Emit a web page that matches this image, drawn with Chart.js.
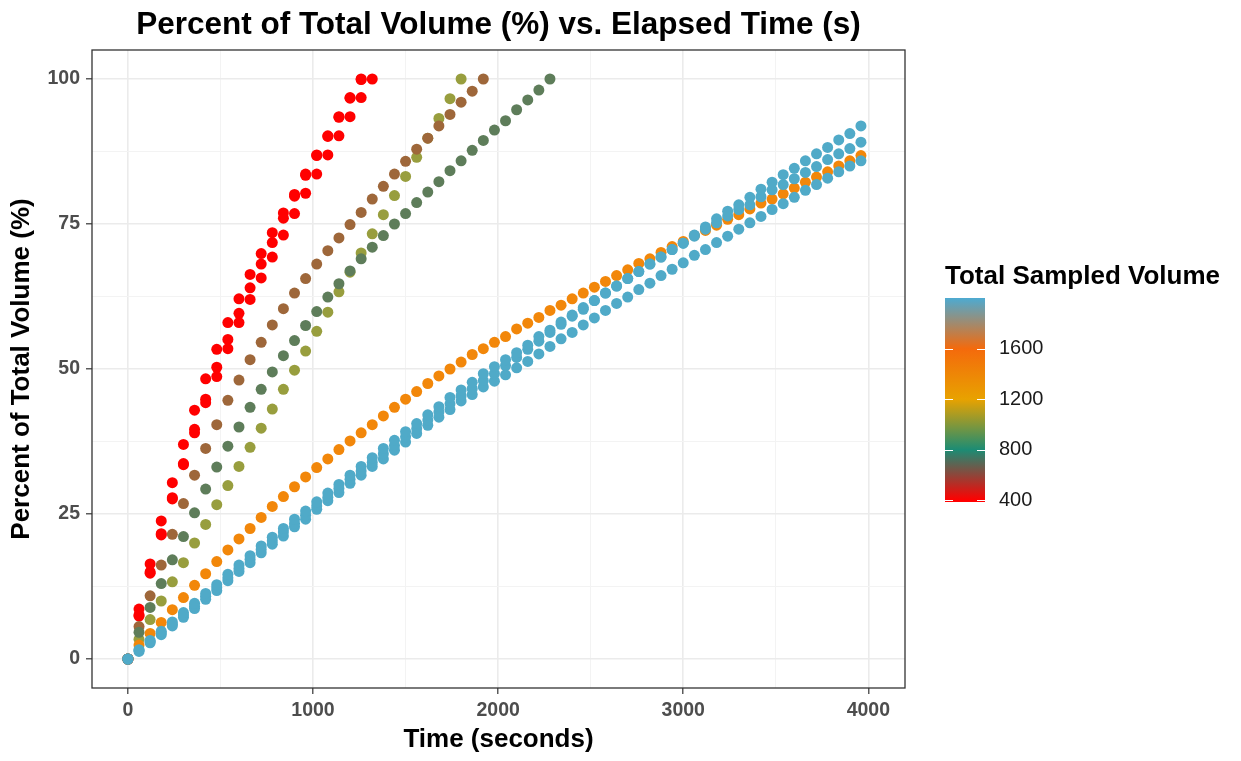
<!DOCTYPE html>
<html>
<head>
<meta charset="utf-8">
<title>Percent of Total Volume vs. Elapsed Time</title>
<script src="https://cdn.jsdelivr.net/npm/chart.js@4.4.1/dist/chart.umd.min.js"></script>
<style>
  html, body { margin: 0; padding: 0; background: #ffffff; }
  #wrap { width: 1241px; height: 761px; }
</style>
</head>
<body>
<div id="wrap"><canvas id="chart" width="1241" height="761"></canvas></div>
<script>
// Elapsed time of each reading (seconds)
const times = [0, 60, 120, 180, 240, 300, 360, 420, 480, 540, 600, 660, 720, 780, 840, 900, 960,
  1020, 1080, 1140, 1200, 1260, 1320, 1380, 1440, 1500, 1560, 1620, 1680, 1740, 1800, 1860, 1920, 1980,
  2040, 2100, 2160, 2220, 2280, 2340, 2400, 2460, 2520, 2580, 2640, 2700, 2760, 2820, 2880, 2940, 3000,
  3060, 3120, 3180, 3240, 3300, 3360, 3420, 3480, 3540, 3600, 3660, 3720, 3780, 3840, 3900, 3960]

// Percent of total volume per sample
const redA = [0, 8.6, 16.4, 23.8, 30.4, 37.0, 42.9, 48.3, 53.4, 58.0, 62.1, 66.3, 69.9, 73.5, 76.9, 80.1,
  83.6, 86.9, 90.2, 93.5, 96.8, 100]
const redB = [0, 7.6, 15.0, 21.6, 27.8, 33.7, 39.6, 44.8, 50.3, 55.1, 59.6, 64.0, 68.1, 71.8, 76.0, 79.8,
  83.4, 86.8, 90.1, 93.4, 96.7, 99.9]
const redC = [0, 7.4, 14.8, 21.4, 27.6, 33.5, 39.0, 44.2, 48.7, 53.5, 58.0, 62.0, 65.7, 69.3, 73.1, 76.8,
  80.3, 83.6, 86.9, 90.2, 93.5, 96.8, 100]
const brown = [0, 5.6, 10.9, 16.2, 21.5, 26.8, 31.7, 36.3, 40.4, 44.6, 48.1, 51.6, 54.6, 57.6, 60.4, 63.1,
  65.6, 68.1, 70.4, 72.6, 74.9, 77.0, 79.3, 81.5, 83.6, 85.8, 87.9, 89.8, 91.9, 93.9, 96.0, 97.9, 100]
const olive = [0, 3.4, 6.8, 10.0, 13.3, 16.6, 20.0, 23.2, 26.6, 29.9, 33.2, 36.5, 39.8, 43.1, 46.5, 49.8,
  53.1, 56.5, 59.8, 63.3, 66.7, 70.0, 73.3, 76.6, 79.9, 83.2, 86.5, 89.8, 93.2, 96.6, 100]
const green = [0, 4.6, 8.9, 13.0, 17.1, 21.1, 25.2, 29.3, 33.1, 36.7, 40.0, 43.4, 46.5, 49.5, 52.3, 54.9,
  57.5, 59.9, 62.4, 64.7, 66.9, 69.0, 71.0, 73.0, 75.0, 76.8, 78.7, 80.5, 82.3, 84.2, 85.9, 87.7, 89.4,
  91.2, 92.8, 94.7, 96.4, 98.1, 100]
const orange = [0, 2.4, 4.4, 6.3, 8.5, 10.6, 12.7, 14.7, 16.8, 18.8, 20.7, 22.5, 24.4, 26.3, 28.0, 29.7,
  31.4, 33.0, 34.5, 36.1, 37.6, 39.0, 40.4, 41.9, 43.4, 44.8, 46.1, 47.5, 48.8, 50.0, 51.2, 52.5, 53.5,
  54.6, 55.6, 56.9, 57.9, 58.9, 60.1, 61.0, 62.1, 63.1, 64.1, 65.1, 66.1, 67.1, 68.2, 69.0, 70.1, 71.1,
  72.0, 73.0, 73.9, 74.8, 75.8, 76.6, 77.6, 78.6, 79.3, 80.2, 81.2, 82.2, 83.1, 84.0, 85.0, 85.9, 86.8]
const blueA = [0, 1.6, 3.2, 4.8, 6.4, 8.0, 9.6, 11.3, 12.8, 14.6, 16.2, 17.8, 19.5, 21.0, 22.5, 24.1,
  25.5, 27.1, 28.6, 30.1, 31.7, 33.2, 34.7, 36.3, 37.7, 39.2, 40.6, 42.1, 43.5, 45.1, 46.4, 47.7, 49.2,
  50.4, 51.6, 52.8, 54.1, 55.6, 56.7, 58.1, 59.3, 60.6, 61.8, 63.1, 64.3, 65.6, 66.8, 68.1, 69.3, 70.6,
  71.7, 73.1, 74.5, 75.9, 77.2, 78.3, 79.6, 81.0, 82.2, 83.5, 84.6, 85.9, 87.1, 88.2, 89.5, 90.6, 91.9]
const blueB = [0, 1.5, 3.0, 4.5, 6.0, 7.6, 9.1, 10.8, 12.3, 14.0, 15.6, 17.2, 18.9, 20.4, 21.9, 23.4,
  24.8, 26.4, 27.9, 29.4, 31.0, 32.4, 33.9, 35.4, 36.8, 38.3, 39.7, 41.2, 42.6, 44.0, 45.4, 46.6, 48.0,
  49.2, 50.6, 52.0, 53.4, 54.8, 56.3, 57.7, 59.1, 60.3, 61.8, 63.1, 64.3, 65.6, 66.8, 68.1, 69.3, 70.6,
  71.7, 72.9, 74.1, 75.2, 76.4, 77.5, 78.3, 79.7, 80.9, 81.8, 82.8, 83.9, 84.9, 86.1, 87.1, 88.0, 89.1]
const blueC = [0, 1.3, 2.8, 4.2, 5.7, 7.2, 8.7, 10.3, 11.8, 13.5, 15.1, 16.6, 18.3, 19.8, 21.2, 22.8,
  24.1, 25.8, 27.3, 28.7, 30.3, 31.7, 33.2, 34.5, 36.0, 37.4, 38.9, 40.3, 41.7, 43.0, 44.5, 45.6, 46.9,
  47.9, 49.0, 50.2, 51.3, 52.6, 53.9, 55.2, 56.3, 57.6, 58.8, 60.1, 61.3, 62.4, 63.7, 64.8, 66.1, 67.2,
  68.3, 69.6, 70.6, 71.8, 72.9, 74.1, 75.2, 76.3, 77.5, 78.5, 79.6, 80.8, 81.8, 82.9, 84.0, 85.0, 85.9]

// Axis breaks
const xTicks = [0, 1000, 2000, 3000, 4000]
const xMinor = [500, 1500, 2500, 3500]
const yTicks = [0, 25, 50, 75, 100]
const yMinor = [12.5, 37.5, 62.5, 87.5]

// Colour bar (Total Sampled Volume)
const legendBreaks = [400, 800, 1200, 1600]
const barRange = [386, 2003]
const barStops = [400, 800, 1200, 1600, 2000]
const barColours = ['#ff0000', '#1c8c74', '#e8a200', '#f46a0c', '#4eaad0']

// drawn bottom to top
const samples = [
  { label: 'Red A', values: redA, colour: '#ff0000' },
  { label: 'Red B', values: redB, colour: '#ff0000' },
  { label: 'Red C', values: redC, colour: '#ff0000' },
  { label: 'Olive', values: olive, colour: '#989e3e' },
  { label: 'Brown', values: brown, colour: '#9e673a' },
  { label: 'Green', values: green, colour: '#5e7d5a' },
  { label: 'Orange', values: orange, colour: '#f2870a' },
  { label: 'Blue C', values: blueC, colour: '#50aac8' },
  { label: 'Blue B', values: blueB, colour: '#50aac8' },
  { label: 'Blue A', values: blueA, colour: '#50aac8' }
]

const FONT = "'Liberation Sans', Arial, Helvetica, sans-serif"
Chart.defaults.font.family = FONT

const datasets = samples.map(s => ({
  label: s.label,
  data: s.values.map((v, i) => ({ x: times[i], y: v })),
  backgroundColor: s.colour,
  borderWidth: 0,
  pointRadius: 5.5,
  pointHoverRadius: 5.5,
  pointBorderWidth: 0,
  showLine: false
})).reverse() // index 0 is painted last in Chart.js

// panel border on top of everything
const panelBorder = {
  id: 'panelBorder',
  afterDraw (chart) {
    const { ctx, chartArea: a } = chart
    ctx.save()
    ctx.strokeStyle = '#333333'
    ctx.lineWidth = 1.3
    ctx.strokeRect(a.left, a.top, a.right - a.left, a.bottom - a.top)
    ctx.restore()
  }
}

// ggplot-like colour bar legend
const colourBar = {
  id: 'colourBar',
  afterDraw (chart) {
    const ctx = chart.ctx
    const x = 945
    const w = 40
    const top = 298
    const bottom = 502
    const lo = barRange[0]
    const hi = barRange[1]
    const yOf = v => bottom - (v - lo) / (hi - lo) * (bottom - top)

    ctx.save()
    ctx.fillStyle = '#000000'
    ctx.font = 'bold 26px ' + FONT
    ctx.textAlign = 'left'
    ctx.textBaseline = 'alphabetic'
    ctx.fillText('Total Sampled Volume', 945, 284)

    const grad = ctx.createLinearGradient(0, bottom, 0, top)
    barStops.forEach((v, i) => grad.addColorStop((v - lo) / (hi - lo), barColours[i]))
    ctx.fillStyle = grad
    ctx.fillRect(x, top, w, bottom - top)

    ctx.strokeStyle = '#ffffff'
    ctx.lineWidth = 1
    ctx.fillStyle = '#1a1a1a'
    ctx.font = '20px ' + FONT
    ctx.textBaseline = 'middle'
    legendBreaks.forEach(v => {
      const y = Math.round(yOf(v)) + 0.5
      ctx.beginPath()
      ctx.moveTo(x, y)
      ctx.lineTo(x + 8, y)
      ctx.moveTo(x + w - 8, y)
      ctx.lineTo(x + w, y)
      ctx.stroke()
      ctx.fillText(String(v), 999, yOf(v))
    })
    ctx.restore()
  }
}

const isMajor = (list, v) => list.includes(v)

new Chart(document.getElementById('chart'), {
  type: 'scatter',
  data: { datasets },
  options: {
    responsive: false,
    animation: false,
    devicePixelRatio: 1,
    layout: { padding: { left: 0, right: 336, top: 0, bottom: 0 } },
    plugins: {
      legend: { display: false },
      tooltip: { enabled: false },
      title: {
        display: true,
        text: 'Percent of Total Volume (%) vs. Elapsed Time (s)',
        fullSize: false,
        color: '#000000',
        font: { size: 31.5, weight: 'bold', lineHeight: 1.2 },
        padding: { top: 6, bottom: 6.2 }
      }
    },
    scales: {
      x: {
        type: 'linear',
        min: -194,
        max: 4198,
        afterBuildTicks: scale => {
          scale.ticks = xTicks.concat(xMinor).sort((a, b) => a - b).map(v => ({ value: v }))
        },
        afterFit: scale => { scale.height = 73 },
        border: { display: false },
        grid: {
          color: c => isMajor(xTicks, c.tick.value) ? '#ebebeb' : '#f3f3f3',
          lineWidth: c => isMajor(xTicks, c.tick.value) ? 1.6 : 1,
          tickColor: c => isMajor(xTicks, c.tick.value) ? '#333333' : 'rgba(0,0,0,0)',
          tickWidth: 1.2,
          tickLength: 6
        },
        ticks: {
          autoSkip: false,
          maxRotation: 0,
          padding: 5,
          color: '#4d4d4d',
          font: { size: 19.5, weight: 'bold' },
          callback: v => isMajor(xTicks, v) ? String(v) : ''
        },
        title: {
          display: true,
          text: 'Time (seconds)',
          color: '#000000',
          font: { size: 26, weight: 'bold', lineHeight: 1.2 },
          padding: { top: 0, bottom: 6 }
        }
      },
      y: {
        type: 'linear',
        min: -5,
        max: 105,
        afterBuildTicks: scale => {
          scale.ticks = yTicks.concat(yMinor).sort((a, b) => a - b).map(v => ({ value: v }))
        },
        afterFit: scale => { scale.width = 92 },
        border: { display: false },
        grid: {
          color: c => isMajor(yTicks, c.tick.value) ? '#ebebeb' : '#f3f3f3',
          lineWidth: c => isMajor(yTicks, c.tick.value) ? 1.6 : 1,
          tickColor: c => isMajor(yTicks, c.tick.value) ? '#333333' : 'rgba(0,0,0,0)',
          tickWidth: 1.2,
          tickLength: 6
        },
        ticks: {
          autoSkip: false,
          padding: 6,
          color: '#4d4d4d',
          font: { size: 19.5, weight: 'bold' },
          callback: v => isMajor(yTicks, v) ? String(v) : ''
        },
        title: {
          display: true,
          text: 'Percent of Total Volume (%)',
          color: '#000000',
          font: { size: 26, weight: 'bold', lineHeight: 1.2 },
          padding: { top: 6, bottom: 0 }
        }
      }
    }
  },
  plugins: [panelBorder, colourBar]
})
</script>
</body>
</html>
